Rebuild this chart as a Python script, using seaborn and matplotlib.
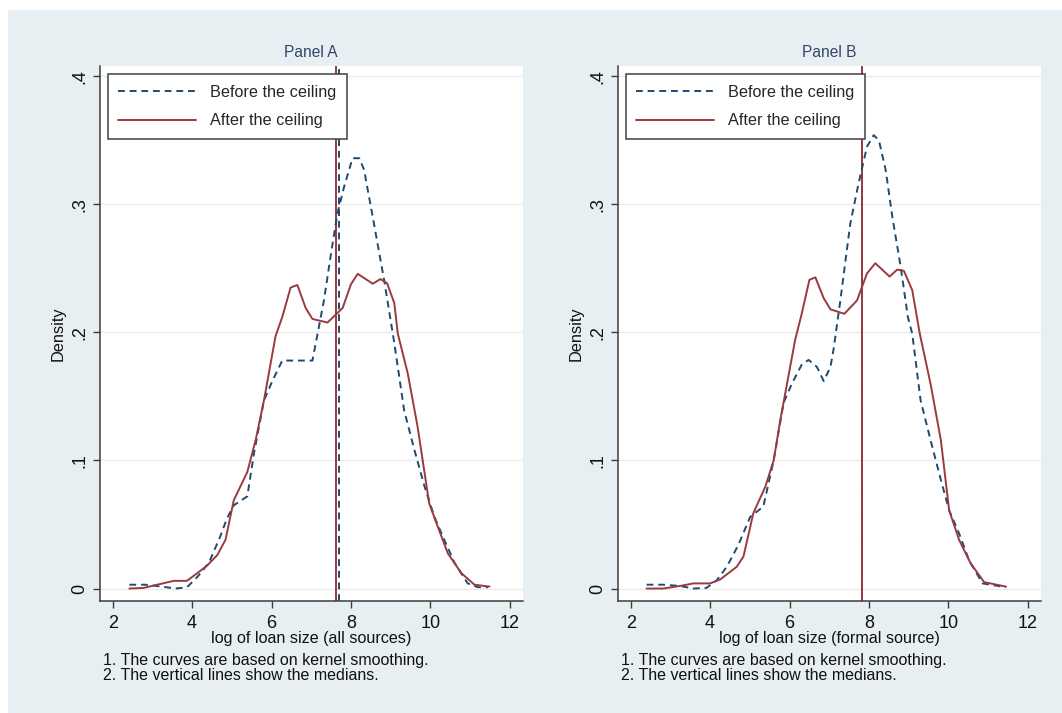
import matplotlib
matplotlib.use("Agg")
import matplotlib.pyplot as plt
from matplotlib.lines import Line2D
from matplotlib.patches import Rectangle
import seaborn as sns
import pandas as pd

# ---------------- data ----------------
panel_titles = ["Panel A", "Panel B"]
x_labels = ["log of loan size (all sources)", "log of loan size (formal source)"]
series_labels = ["Before the ceiling", "After the ceiling"]
notes = ["1. The curves are based on kernel smoothing.",
         "2. The vertical lines show the medians."]
x_ticks = [2, 4, 6, 8, 10, 12]
y_ticks = [0, 0.1, 0.2, 0.3, 0.4]
y_tick_labels = ["0", ".1", ".2", ".3", ".4"]

# Panel A - before the ceiling (dashed)
a_before_x = [2.42, 2.82, 3.24, 3.58, 3.87, 4.13, 4.42, 4.70, 4.88, 5.05, 5.39, 5.56,
              5.81, 6.02, 6.27, 7.03, 7.32, 7.50, 7.66, 7.83, 8.04, 8.21, 8.33, 8.59,
              8.84, 9.09, 9.34, 9.60, 9.85, 10.10, 10.35, 10.61, 10.94, 11.20, 11.45]
a_before_y = [0.003, 0.003, 0.0015, 0.0, 0.001, 0.009, 0.020, 0.040, 0.055, 0.065, 0.072, 0.106,
              0.147, 0.162, 0.178, 0.178, 0.225, 0.262, 0.293, 0.314, 0.336, 0.336, 0.327, 0.283,
              0.240, 0.192, 0.139, 0.108, 0.080, 0.056, 0.038, 0.020, 0.004, 0.001, 0.001]
# Panel A - after the ceiling (solid)
a_after_x = [2.42, 2.78, 3.12, 3.54, 3.87, 4.13, 4.38, 4.63, 4.84, 5.05, 5.39, 5.60, 5.81,
             6.10, 6.27, 6.48, 6.65, 6.86, 7.03, 7.41, 7.79, 8.00, 8.17, 8.55, 8.74, 8.91,
             9.09, 9.18, 9.43, 9.68, 9.97, 10.19, 10.44, 10.78, 11.11, 11.49]
a_after_y = [0.0, 0.0005, 0.003, 0.006, 0.006, 0.012, 0.018, 0.026, 0.038, 0.069, 0.091, 0.116, 0.147,
             0.197, 0.212, 0.235, 0.237, 0.219, 0.2105, 0.2077, 0.219, 0.2376, 0.2457, 0.238, 0.2416, 0.2384,
             0.223, 0.199, 0.168, 0.126, 0.0665, 0.048, 0.0275, 0.012, 0.003, 0.0015]
# Panel B - before the ceiling (dashed)
b_before_x = [2.40, 2.82, 3.24, 3.58, 3.91, 4.17, 4.42, 4.71, 5.01, 5.34, 5.60, 5.85, 6.06,
              6.31, 6.48, 6.69, 6.86, 7.03, 7.11, 7.28, 7.53, 7.74, 7.95, 8.12, 8.25, 8.42,
              8.59, 8.80, 8.98, 9.09, 9.30, 9.55, 9.81, 10.02, 10.27, 10.52, 10.86, 11.45]
b_before_y = [0.003, 0.003, 0.002, 0.0, 0.0005, 0.0066, 0.017, 0.034, 0.056, 0.064, 0.100, 0.145, 0.160,
              0.175, 0.1785, 0.173, 0.162, 0.173, 0.187, 0.225, 0.285, 0.3166, 0.345, 0.354, 0.350, 0.327,
              0.290, 0.251, 0.212, 0.199, 0.147, 0.116, 0.085, 0.061, 0.043, 0.022, 0.004, 0.001]
# Panel B - after the ceiling (solid)
b_after_x = [2.40, 2.82, 3.24, 3.58, 4.00, 4.25, 4.67, 4.84, 5.09, 5.39, 5.60, 5.77, 6.14,
             6.31, 6.50, 6.65, 6.86, 7.03, 7.38, 7.70, 7.95, 8.16, 8.52, 8.71, 8.88, 9.09,
             9.28, 9.55, 9.81, 10.02, 10.27, 10.56, 10.90, 11.45]
b_after_y = [0.0, 0.0, 0.002, 0.004, 0.004, 0.007, 0.017, 0.025, 0.059, 0.0795, 0.100, 0.132, 0.194,
             0.215, 0.241, 0.243, 0.2267, 0.218, 0.2145, 0.225, 0.246, 0.254, 0.2436, 0.249, 0.248, 0.233,
             0.199, 0.160, 0.116, 0.061, 0.038, 0.0197, 0.005, 0.0015]

# medians: [before, after]
a_medians = [7.71, 7.62]
b_medians = [7.83, 7.83]

# ---------------- style ----------------
sns.set_style("white")
plt.rcParams['font.family'] = ['Liberation Sans', 'DejaVu Sans']

BG = "#e8eff2"
BLUE = "#1f4a70"
RED = "#993a40"
AXC = "#3c3c3c"
DASH = (3.5, 2.5)
LW = 1.4

fig = plt.figure(figsize=(10.62, 7.13), dpi=100, facecolor="white")
fig.patches.append(Rectangle((8 / 1062, 0), 1, (713 - 10) / 713, transform=fig.transFigure,
                             facecolor=BG, edgecolor="none", zorder=-10))

panels = [
    (a_before_x, a_before_y, a_after_x, a_after_y, a_medians),
    (b_before_x, b_before_y, b_after_x, b_after_y, b_medians),
]
lefts = [100 / 1062, 618 / 1062]
bottom = 1 - 600.7 / 713
height = (600.7 - 66) / 713
width = 422.5 / 1062

for i, (bx, by, ax_x, ay, meds) in enumerate(panels):
    ax = fig.add_axes([lefts[i], bottom, width, height])
    ax.set_facecolor("white")

    df = pd.concat([
        pd.DataFrame({"x": bx, "density": by, "period": series_labels[0]}),
        pd.DataFrame({"x": ax_x, "density": ay, "period": series_labels[1]}),
    ], ignore_index=True)

    ax.axvline(meds[0], color=BLUE, lw=LW, dashes=DASH, zorder=2)
    ax.axvline(meds[1], color=RED, lw=LW, zorder=2)

    sns.lineplot(data=df, x="x", y="density", hue="period", style="period",
                 palette={series_labels[0]: BLUE, series_labels[1]: RED},
                 dashes={series_labels[0]: DASH, series_labels[1]: ""},
                 estimator=None, sort=True, legend=False, lw=LW, ax=ax, zorder=3)

    ax.set_xlim(1.68, 12.32)
    ax.set_ylim(-0.0095, 0.408)
    ax.set_xticks(x_ticks)
    ax.set_yticks(y_ticks)
    ax.set_yticklabels(y_tick_labels, rotation=90, va="center")
    ax.tick_params(axis="both", which="both", direction="out", length=5, width=1.0, color=AXC,
                   labelsize=13, labelcolor="#111111", bottom=True, left=True)
    ax.tick_params(axis="x", pad=5.5)
    ax.tick_params(axis="y", pad=3.5)

    ax.yaxis.grid(True, color="#ebebeb", lw=1.0)
    ax.xaxis.grid(False)
    ax.set_axisbelow(True)
    for s in ["top", "right"]:
        ax.spines[s].set_visible(False)
    for s in ["left", "bottom"]:
        ax.spines[s].set_color(AXC)
        ax.spines[s].set_linewidth(1.1)

    ax.set_xlabel(x_labels[i], fontsize=11.6, color="#111111")
    ax.xaxis.label.set_va("center")
    ax.xaxis.set_label_coords(0.5, -0.0698)
    ax.set_ylabel("Density", fontsize=11.8, color="#111111")
    ax.yaxis.label.set_va("center")
    ax.yaxis.set_label_coords(-0.099, 0.5)

    ax.set_title(panel_titles[i], y=1.026, pad=0, va="center", fontsize=11.2, color="#33466a")

    ax.text(0.007, -0.111, notes[0], transform=ax.transAxes, ha="left", va="center",
            fontsize=11.5, color="#111111")
    ax.text(0.007, -0.139, notes[1], transform=ax.transAxes, ha="left", va="center",
            fontsize=11.5, color="#111111")

    handles = [Line2D([], [], color=BLUE, lw=LW, dashes=DASH),
               Line2D([], [], color=RED, lw=LW)]
    leg = ax.legend(handles, series_labels, loc="upper left", bbox_to_anchor=(0.018, 0.985),
                    borderaxespad=0, borderpad=0.65, handlelength=4.8, handletextpad=0.86,
                    labelspacing=0.85, fontsize=11.7, frameon=True, fancybox=False,
                    framealpha=1, edgecolor="#404040", facecolor="white")
    leg.get_frame().set_linewidth(1.1)
    leg.set_zorder(5)

fig.savefig("out.png", dpi=100)
